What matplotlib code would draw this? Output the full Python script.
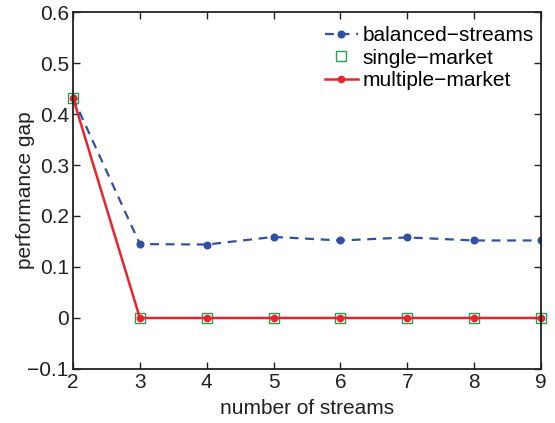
import matplotlib
matplotlib.use("Agg")
import matplotlib.pyplot as plt

streams = [2, 3, 4, 5, 6, 7, 8, 9]
balanced = [0.432, 0.145, 0.144, 0.159, 0.152, 0.158, 0.152, 0.152]
single = [0.432, 0, 0, 0, 0, 0, 0, 0]
multiple = [0.432, 0, 0, 0, 0, 0, 0, 0]

plt.rcParams['font.family'] = ['Liberation Sans', 'DejaVu Sans']
fig = plt.figure(figsize=(5.55, 4.23), dpi=100)
ax = fig.add_axes([0.1315, 0.1277, 0.8435, 0.8439])

ax.plot(streams, balanced, '--', color='#3050a8', lw=1.6, marker='o', ms=4.8,
        dashes=(4, 3), label='balanced\u2212streams')
ax.plot(streams, single, 's', color='#2a9a5a', mfc='none', ms=7, mew=1.0,
        label='single\u2212market', clip_on=False)
ax.plot(streams, multiple, '-', color='#e8242c', lw=1.8, marker='o', ms=4.5,
        label='multiple\u2212market', clip_on=False)

ax.set_xlim(2, 9)
ax.set_ylim(-0.1, 0.6)
ax.set_xticks(streams)
ax.set_yticks([-0.1, 0, 0.1, 0.2, 0.3, 0.4, 0.5, 0.6])
ax.set_yticklabels(['\u22120.1', '0', '0.1', '0.2', '0.3', '0.4', '0.5', '0.6'])
ax.tick_params(direction='in', top=True, right=True, labelsize=15, length=5,
               width=1, colors='#222222', pad=3)
for s in ax.spines.values():
    s.set_linewidth(1.3)
    s.set_color('#222222')
ax.set_xlabel('number of streams', fontsize=15, color='#222222')
ax.set_ylabel('performance gap', fontsize=15, color='#222222')
ax.xaxis.set_label_coords(0.5, -0.085)
ax.yaxis.set_label_coords(-0.081, 0.5)

leg = ax.legend(loc='upper right', frameon=False, fontsize=15, handlelength=1.6,
                handletextpad=0.2, labelspacing=0.18, borderaxespad=0.2,
                borderpad=0.3, bbox_to_anchor=(1.006, 0.99))
fig.savefig('out.png', dpi=100)
